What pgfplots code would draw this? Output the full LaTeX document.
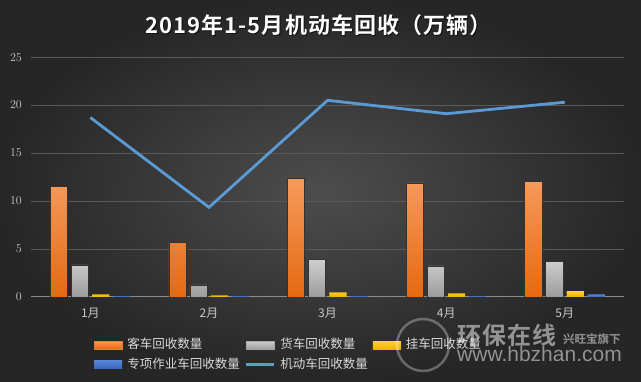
\documentclass[border=0pt]{standalone}
\usepackage{fontspec}
\setmainfont{Carlito}
\newfontfamily\cjk[BoldFont={Noto Sans CJK SC Bold}]{Noto Sans CJK SC}
\newfontfamily\wm{Liberation Sans}
\usepackage{pgfplots}
\pgfplotsset{compat=1.18}
\definecolor{bgin}{HTML}{4D4D4D}
\definecolor{bgout}{HTML}{262626}
\definecolor{gridc}{HTML}{5A5A5A}
\definecolor{zeroc}{HTML}{8C8C8C}
\definecolor{tickc}{HTML}{C8C8C8}
\definecolor{legc}{HTML}{D9D9D9}
\definecolor{orgtop}{HTML}{F79A5C}
\definecolor{orgbot}{HTML}{E36A12}
\definecolor{orgmid}{HTML}{ED7D31}
\definecolor{grytop}{HTML}{CFCFCF}
\definecolor{grybot}{HTML}{9C9C9C}
\definecolor{grymid}{HTML}{A5A5A5}
\definecolor{yeltop}{HTML}{FFD02E}
\definecolor{yelbot}{HTML}{F0B400}
\definecolor{yelmid}{HTML}{FFC000}
\definecolor{blutop}{HTML}{5585D6}
\definecolor{blubot}{HTML}{3A66B8}
\definecolor{blumid}{HTML}{4472C4}
\definecolor{linec}{HTML}{5B9BD5}
\definecolor{barline}{HTML}{333333}
\begin{document}
\begin{tikzpicture}[x=1pt,y=1pt]
\shade[inner color=bgin, outer color=bgout] (0,0) rectangle (641,382);
% title with shadow
\node[font=\cjk\bfseries\fontsize{22}{26}\selectfont\addfontfeature{LetterSpace=5}, text=black, opacity=0.6] at (319.5,355.5) {2019年1-5月机动车回收（万辆）};
\node[font=\cjk\bfseries\fontsize{22}{26}\selectfont\addfontfeature{LetterSpace=5}, text=white] at (318.5,356.5) {2019年1-5月机动车回收（万辆）};
\begin{axis}[
  at={(26.2,88.8)}, anchor=south west,
  scale only axis, width=593, height=239.7,
  xmin=0.5, xmax=5.5, ymin=0, ymax=25,
  xtick={1,2,3,4,5},
  xticklabels={1月,2月,3月,4月,5月},
  ytick={0,5,10,15,20,25},
  major tick length=0pt,
  axis line style={draw=none},
  ymajorgrids, grid style={draw=gridc, line width=0.8pt},
  extra y ticks={0}, extra y tick labels={},
  extra y tick style={grid style={draw=zeroc, line width=1pt}},
  yticklabel style={font=\fontsize{12}{14}\selectfont, text=tickc, anchor=east, inner sep=0pt, xshift=-9pt},
  xticklabel style={font=\cjk\fontsize{12}{14}\selectfont, text=tickc, anchor=center, inner sep=0pt, yshift=-16pt},
  legend columns=3,
  legend cell align=left,
  legend style={at={(0.106,-0.176)}, anchor=north west, draw=none, fill=none,
    inner sep=0pt, outer sep=0pt, column sep=5pt, row sep=7.5pt,
    font=\cjk\fontsize{12.5}{14}\selectfont, text=legc,
    nodes={inner sep=0pt, text height=9.5pt, text depth=2.5pt},
    column 2/.style={nodes={text width=115pt}},
    column 4/.style={nodes={text width=115pt}}},
]
\addplot[ybar, bar width=0.145, bar shift=-0.266, draw=barline, line width=0.5pt, top color=orgtop, bottom color=orgbot,
  legend image code/.code={\fill[orgmid] (0pt,-4pt) rectangle (28pt,4pt);}]
  coordinates {(1,11.56) (2,5.67) (3,12.36) (4,11.88) (5,12.08)};
\addlegendentry{客车回收数量}
\addplot[ybar, bar width=0.145, bar shift=-0.088, draw=barline, line width=0.5pt, top color=grytop, bottom color=grybot,
  legend image code/.code={\fill[grymid] (0pt,-4pt) rectangle (28pt,4pt);}]
  coordinates {(1,3.33) (2,1.25) (3,3.9) (4,3.23) (5,3.69)};
\addlegendentry{货车回收数量}
\addplot[ybar, bar width=0.145, bar shift=0.088, draw=none, top color=yeltop, bottom color=yelbot,
  legend image code/.code={\fill[yelmid] (0pt,-4pt) rectangle (28pt,4pt);}]
  coordinates {(1,0.25) (2,0.15) (3,0.46) (4,0.35) (5,0.6)};
\addlegendentry{挂车回收数量}
\addplot[ybar, bar width=0.145, bar shift=0.266, draw=none, top color=blutop, bottom color=blubot,
  legend image code/.code={\fill[blumid] (0pt,-4pt) rectangle (28pt,4pt);}]
  coordinates {(1,0.08) (2,0.07) (3,0.08) (4,0.08) (5,0.25)};
\addlegendentry{专项作业车回收数量}
\addplot[draw=linec, line width=2.8pt, mark=none, line join=miter,
  legend image code/.code={\draw[linec, line width=2.4pt] (0pt,0pt) -- (28pt,0pt);}]
  coordinates {(1,18.7) (2,9.34) (3,20.5) (4,19.1) (5,20.3)};
\addlegendentry{机动车回收数量}
\end{axis}
% watermark (drawn over the legend, as in the reference)
\draw[white, opacity=0.3, line width=2.5pt] (423,37) circle (26);
\node[font=\cjk\bfseries\fontsize{24}{26}\selectfont\addfontfeature{LetterSpace=4}, text=white, opacity=0.5, anchor=base west, inner sep=0pt] at (457,37.5) {环保在线};
\node[font=\cjk\bfseries\fontsize{11.5}{13}\selectfont, text=white, opacity=0.5, anchor=base west, inner sep=0pt] at (563,38) {兴旺宝旗下};
\node[font=\wm\fontsize{21}{23}\selectfont, text=white, opacity=0.5, anchor=base west, inner sep=0pt] at (457,20) {www.hbzhan.com};
\end{tikzpicture}
\end{document}
